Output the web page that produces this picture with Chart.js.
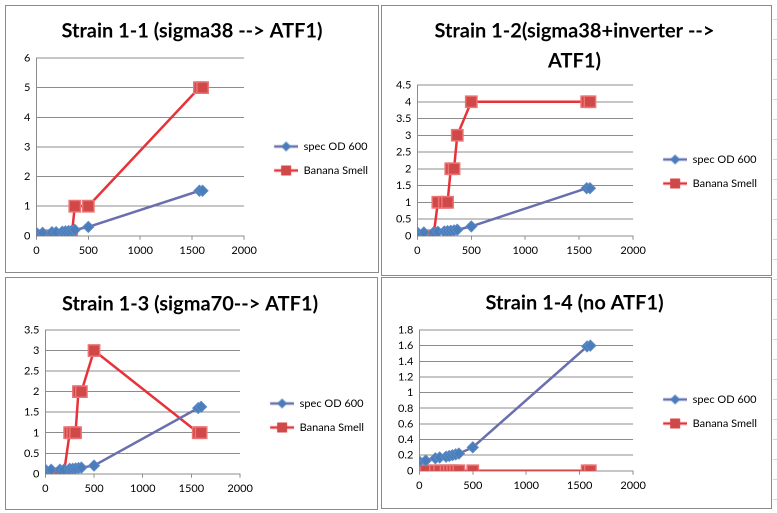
<!DOCTYPE html>
<html>
<head>
<meta charset="utf-8">
<script src="https://cdn.jsdelivr.net/npm/chart.js@4.4.1/dist/chart.umd.min.js"></script>
<style>
  html, body { margin: 0; padding: 0; background: #fff; }
  body { width: 777px; height: 513px; position: relative; overflow: hidden; }
  .panel { position: absolute; box-sizing: border-box; border: 1px solid #8a8a8a; background: #fff; }
  .panel canvas { display: block; }
  .strip { position: absolute; left: 773px; top: 0; width: 4px; height: 513px;
           background: repeating-linear-gradient(#fff 0 19px, #d6d6d6 19px 20px); }
</style>
</head>
<body>
<div class="strip"></div>
<div class="panel" style="left:5px;top:5px;width:374px;height:268px"><canvas id="c1" width="372" height="266"></canvas></div>
<div class="panel" style="left:381px;top:5px;width:391px;height:271px"><canvas id="c2" width="389" height="269"></canvas></div>
<div class="panel" style="left:5px;top:277px;width:373px;height:233px"><canvas id="c3" width="371" height="231"></canvas></div>
<div class="panel" style="left:381px;top:277px;width:391px;height:232px"><canvas id="c4" width="389" height="230"></canvas></div>
<script>
// tempo (min) - eixo X comum aos quatro gráficos
const times = [0, 60, 150, 190, 250, 280, 310, 340, 370, 500, 1570, 1600];

// Strain 1-1
const strain1Od = [0.1, 0.1, 0.12, 0.12, 0.14, 0.15, 0.16, 0.17, 0.2, 0.3, 1.52, 1.52];
const strain1Banana = [0, 0, 0, 0, 0, 0, 0, 0, 1, 1, 5, 5];
// Strain 1-2
const strain2Od = [0.1, 0.1, 0.1, 0.12, 0.13, 0.14, 0.15, 0.16, 0.18, 0.28, 1.42, 1.42];
const strain2Banana = [0, 0, 0, 1, 1, 1, 2, 2, 3, 4, 4, 4];
// Strain 1-3
const strain3Od = [0.1, 0.1, 0.1, 0.1, 0.12, 0.12, 0.13, 0.14, 0.15, 0.2, 1.6, 1.63];
const strain3Banana = [0, 0, 0, 0, 1, 1, 1, 2, 2, 3, 1, 1];
// Strain 1-4
const strain4Od = [0.12, 0.13, 0.16, 0.17, 0.18, 0.19, 0.2, 0.21, 0.22, 0.3, 1.59, 1.6];
const strain4Banana = [0, 0, 0, 0, 0, 0, 0, 0, 0, 0, 0, 0];

const seriesNames = ['spec OD 600', 'Banana Smell'];
const xTicks = { min: 0, max: 2000, step: 500 };

const BLUE_LINE = '#6a6fae';
const BLUE_MARK = '#4b7dbb';
const RED_LINE = '#e8323a';
const RED_MARK = '#d04848';
const FONT = 'Lato, "Open Sans", sans-serif';

// ícone da legenda: margem vazia + linha com marcador no meio (estilo Excel)
const ICON_GAP = 17;
const ICON_LINE = 24;
function legendIcon(lineColor, markColor, shape) {
    const c = document.createElement('canvas');
    c.width = ICON_GAP + ICON_LINE; c.height = 12;
    const g = c.getContext('2d');
    const mid = ICON_GAP + ICON_LINE / 2;
    g.strokeStyle = lineColor; g.lineWidth = 2.5;
    g.beginPath(); g.moveTo(ICON_GAP, 6); g.lineTo(ICON_GAP + ICON_LINE, 6); g.stroke();
    g.fillStyle = markColor;
    if (shape === 'diamond') {
        g.beginPath(); g.moveTo(mid, 1); g.lineTo(mid + 5, 6); g.lineTo(mid, 11); g.lineTo(mid - 5, 6); g.closePath(); g.fill();
    } else {
        g.fillRect(mid - 5, 1, 10, 10);
    }
    return c;
}
const icons = [legendIcon(BLUE_LINE, BLUE_MARK, 'diamond'), legendIcon(RED_LINE, RED_MARK, 'square')];

function toPoints(ys) {
    return times.map((t, i) => ({ x: t, y: ys[i] }));
}

function makeChart(id, title, od, banana, yMax, yStep, lay) {
    const canvas = document.getElementById(id);
    return new Chart(canvas, {
        type: 'line',
        data: {
            datasets: [
                {
                    label: seriesNames[0],
                    data: toPoints(od),
                    borderColor: BLUE_LINE,
                    borderWidth: 2.5,
                    pointStyle: 'rectRot',
                    pointRadius: 5.5,
                    pointBackgroundColor: BLUE_MARK,
                    pointBorderColor: '#5a8bc6',
                    pointBorderWidth: 1,
                    tension: 0
                },
                {
                    label: seriesNames[1],
                    data: toPoints(banana),
                    borderColor: RED_LINE,
                    borderWidth: 2.5,
                    pointStyle: 'rect',
                    pointRadius: 8,
                    pointBackgroundColor: RED_MARK,
                    pointBorderColor: '#ec7474',
                    pointBorderWidth: 1.5,
                    tension: 0
                }
            ]
        },
        options: {
            responsive: false,
            animation: false,
            devicePixelRatio: 2,
            layout: { padding: lay.padding },
            scales: {
                x: {
                    type: 'linear',
                    min: xTicks.min, max: xTicks.max,
                    ticks: {
                        stepSize: xTicks.step, color: '#000', font: { family: FONT, size: 11 }, padding: 4, maxRotation: 0,
                        callback: (v) => String(v)
                    },
                    grid: { drawOnChartArea: false, drawTicks: true, tickLength: 4, color: '#8c8c8c' },
                    border: { color: '#8c8c8c' }
                },
                y: {
                    min: 0, max: yMax,
                    ticks: {
                        stepSize: yStep, color: '#000', font: { family: FONT, size: 11 }, padding: 6, autoSkip: false,
                        callback: (v) => String(Number(v.toFixed(2)))
                    },
                    grid: { color: '#8c8c8c', drawTicks: false },
                    border: { color: '#8c8c8c' },
                    afterFit: (scale) => { scale.width += lay.yExtra; }
                }
            },
            plugins: {
                tooltip: { enabled: false },
                title: {
                    display: true,
                    text: title,
                    color: '#000',
                    font: { family: FONT, size: 20, weight: 'bold', lineHeight: 1.5 },
                    padding: lay.titlePad
                },
                legend: {
                    position: 'right',
                    align: 'start',
                    maxWidth: 170,
                    // título vazio só para empurrar os itens para baixo
                    title: { display: true, text: '', font: { size: 1, lineHeight: 1 }, padding: { top: lay.legendTop, bottom: 0 } },
                    labels: {
                        color: '#000',
                        font: { family: FONT, size: 11 },
                        usePointStyle: true,
                        pointStyleWidth: ICON_GAP + ICON_LINE,
                        padding: 13,
                        generateLabels: (chart) => {
                            const items = Chart.defaults.plugins.legend.labels.generateLabels(chart);
                            items.forEach((it, i) => { it.pointStyle = icons[i]; });
                            return items;
                        }
                    }
                }
            }
        }
    });
}

makeChart('c1', 'Strain 1-1 (sigma38 --> ATF1)', strain1Od, strain1Banana, 6, 1,
    { padding: { left: 0, right: 0, top: 0, bottom: 11 }, yExtra: 12, titlePad: { top: 10, bottom: 12 }, legendTop: 121 });
makeChart('c2', ['Strain 1-2(sigma38+inverter -->', 'ATF1)'], strain2Od, strain2Banana, 4.5, 0.5,
    { padding: { left: 0, right: 4, top: 0, bottom: 14 }, yExtra: 8, titlePad: { top: 10, bottom: 9 }, legendTop: 134 });
makeChart('c3', 'Strain 1-3 (sigma70--> ATF1)', strain3Od, strain3Banana, 3.5, 0.5,
    { padding: { left: 0, right: 3, top: 0, bottom: 10 }, yExtra: 12, titlePad: { top: 11, bottom: 11 }, legendTop: 106 });
makeChart('c4', 'Strain 1-4 (no ATF1)', strain4Od, strain4Banana, 1.8, 0.2,
    { padding: { left: 0, right: 4, top: 0, bottom: 12 }, yExtra: 10, titlePad: { top: 10, bottom: 12 }, legendTop: 102 });
</script>
</body>
</html>
